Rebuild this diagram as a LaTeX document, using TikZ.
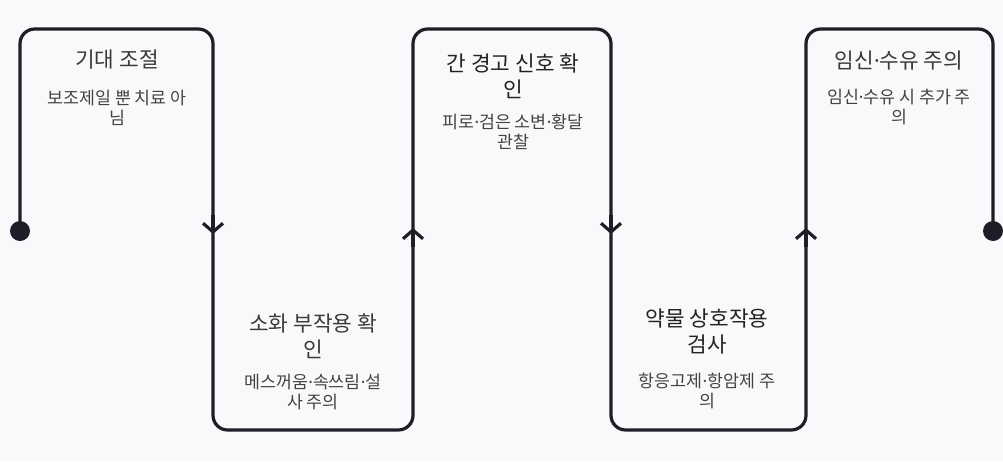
\documentclass[tikz,border=0pt]{standalone}
\usepackage{fontspec}
\setmainfont{Noto Sans CJK KR}
\newfontfamily\latinfont{Noto Sans}
\usepackage{tikz}
\usetikzlibrary{arrows.meta, positioning}

\definecolor{bgcol}{HTML}{F9F9FB}
\definecolor{inkcol}{HTML}{1E1E28}
\definecolor{headcol}{HTML}{3A3A3A}
\definecolor{headdark}{HTML}{222222}
\definecolor{subcol}{HTML}{444444}

% narrow middle dot
\newcommand{\mdot}{{\latinfont ·}}

\tikzset{
  route/.style={line width=2.4pt, draw=inkcol, rounded corners=11pt},
  tip/.style={line width=2.4pt, draw=inkcol, -{Straight Barb[length=6.5pt,width=15pt]}},
  dot/.style={circle, fill=inkcol, inner sep=0pt, minimum size=15pt},
  head/.style={align=center, text=headcol, font=\fontsize{16}{19.5}\selectfont},
  headb/.style={head, text=headdark},
  note/.style={align=center, text=subcol, font=\fontsize{13}{15.5}\selectfont}
}

\begin{document}
\begin{tikzpicture}[x=0.75pt, y=-0.75pt]
  % canvas (pixel grid, y downwards)
  \fill[bgcol] (0,0) rectangle (1003,461);
  \useasboundingbox (0,0) rectangle (1003,461);

  % turning points of the route
  \coordinate (p1) at (20,29);
  \coordinate (p2) at (213,29);
  \coordinate (p3) at (213,430);
  \coordinate (p4) at (413,430);
  \coordinate (p5) at (413,29);
  \coordinate (p6) at (611,29);
  \coordinate (p7) at (611,430);
  \coordinate (p8) at (806,430);
  \coordinate (p9) at (806,29);
  \coordinate (p10) at (993,29);

  % end dots
  \node[dot] (start) at (20,231) {};
  \node[dot] (finish) at (993,231) {};

  % the route
  \draw[route] (start.center) -- (p1) -- (p2) -- (p3) -- (p4) -- (p5) -- (p6)
    -- (p7) -- (p8) -- (p9) -- (p10) -- (finish.center);

  % direction marks
  \coordinate (a1) at (213,215); \coordinate (b1) at (213,234);
  \coordinate (a2) at (413,247); \coordinate (b2) at (413,228);
  \coordinate (a3) at (611,215); \coordinate (b3) at (611,234);
  \coordinate (a4) at (806,247); \coordinate (b4) at (806,228);
  \draw[tip] (a1) -- (b1);
  \draw[tip] (a2) -- (b2);
  \draw[tip] (a3) -- (b3);
  \draw[tip] (a4) -- (b4);

  % step texts
  \node[head] (h1) at (117,60) {기대 조절};
  \node[note] (n1) at (117,108) {보조제일 뿐 치료 아\\님};

  \node[head] (h2) at (313,336) {소화 부작용 확\\인};
  \node[note] (n2) at (313,392) {메스꺼움\mdot 속쓰림\mdot 설\\사 주의};

  \node[headb] (h3) at (513,76) {간 경고 신호 확\\인};
  \node[note] (n3) at (513,132) {피로\mdot 검은 소변\mdot 황달\\관찰};

  \node[headb] (h4) at (707,332) {약물 상호작용\\검사};
  \node[note] (n4) at (707,391) {항응고제\mdot 항암제 주\\의};

  \node[head] (h5) at (899,61) {임신\mdot 수유 주의};
  \node[note] (n5) at (899,107) {임신\mdot 수유 시 추가 주\\의};
\end{tikzpicture}
\end{document}
